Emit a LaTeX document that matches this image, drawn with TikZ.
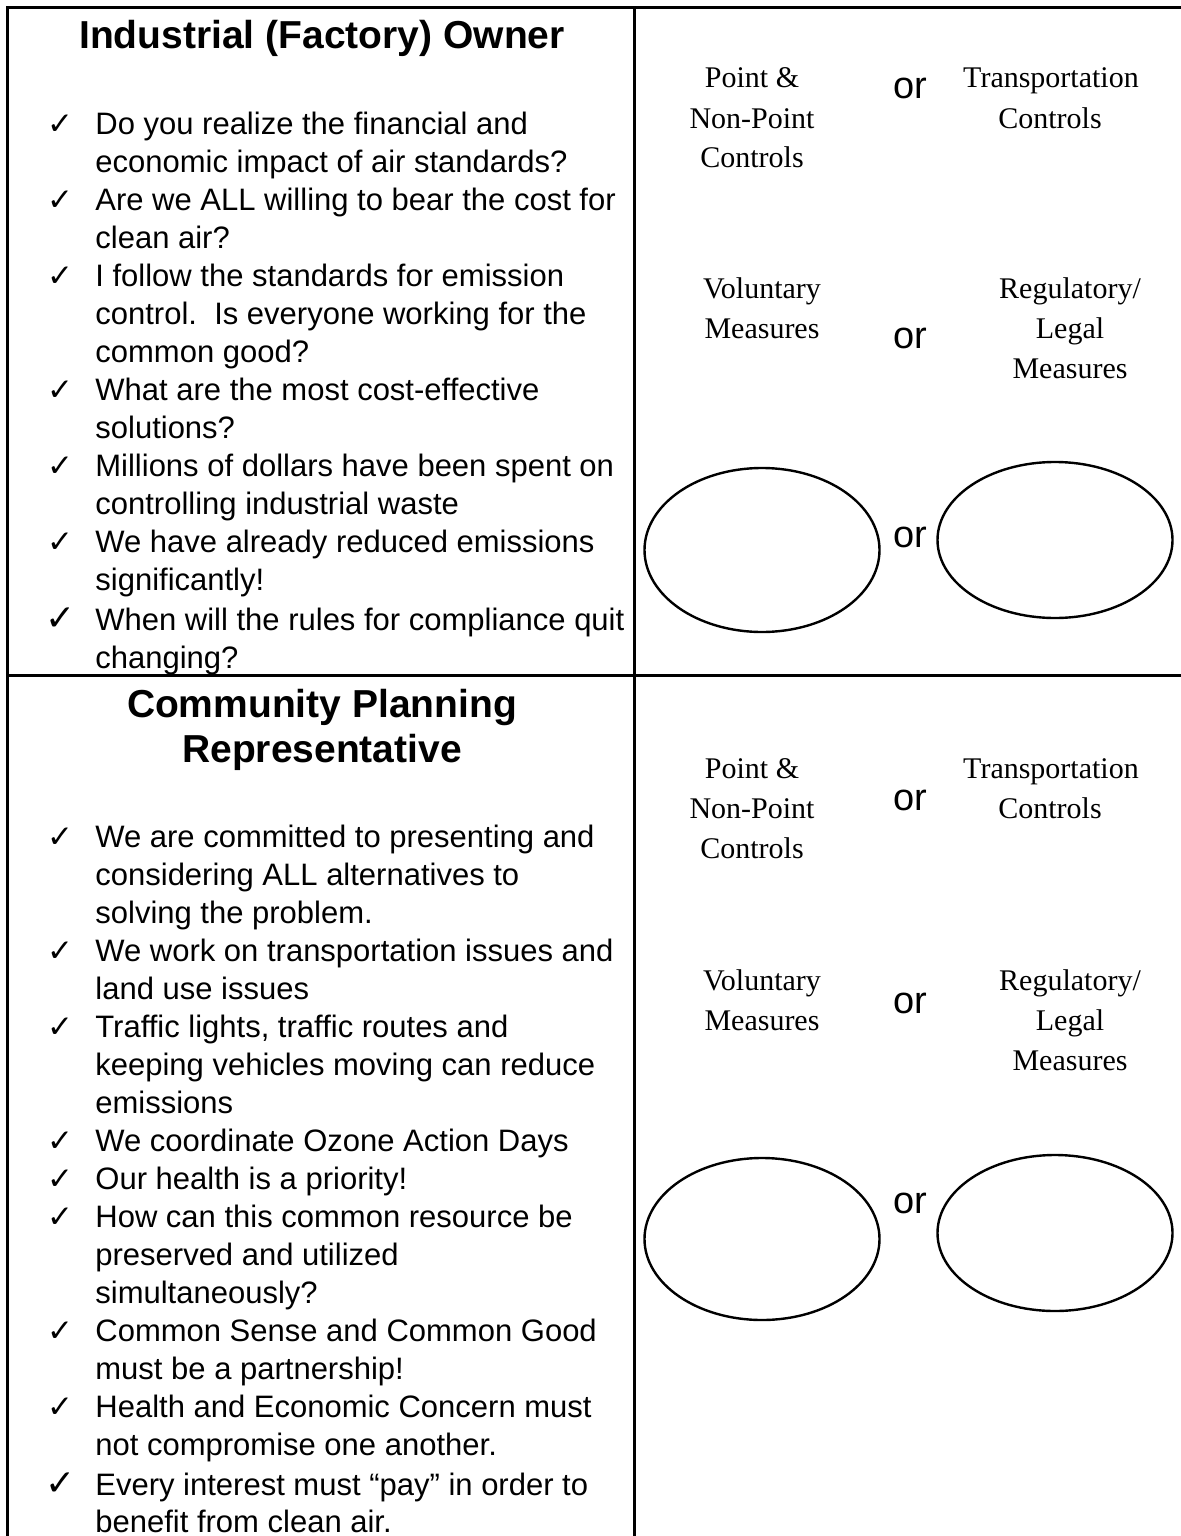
\documentclass[tikz,border=0pt]{standalone}
\usepackage{fontspec}
\setmainfont{Liberation Sans}
\newfontfamily\tmsfam{Liberation Serif}
\newfontfamily\symfam{DejaVu Sans}
\usetikzlibrary{shapes.geometric}
\newcommand{\bodyfont}{\fontsize{15.5pt}{19pt}\selectfont}
\newcommand{\ttlfont}{\bfseries\fontsize{19.5pt}{23pt}\selectfont}
\newcommand{\tmsfont}{\tmsfam\fontsize{15pt}{20pt}\selectfont}
\newcommand{\orfont}{\fontsize{19pt}{22pt}\selectfont}
\newcommand{\chkfont}{\symfam\fontsize{15.5pt}{18pt}\selectfont}
\newcommand{\chkbigfont}{\symfam\fontsize{18pt}{20pt}\selectfont}
\begin{document}
\begin{tikzpicture}[x=0.5pt,y=-0.5pt,
  body/.style={anchor=base west,inner sep=0pt,font=\bodyfont},
  chk/.style={anchor=base west,inner sep=0pt,font=\chkfont},
  chkbig/.style={anchor=base west,inner sep=0pt,font=\chkbigfont},
  ttl/.style={anchor=base,inner sep=0pt,font=\ttlfont},
  tms/.style={anchor=base,inner sep=0pt,font=\tmsfont},
  orl/.style={anchor=base,inner sep=0pt,font=\orfont},
  oval/.style={draw,ellipse,line width=1.2pt,inner sep=0pt},
  frame/.style={line width=1.5pt}]
\useasboundingbox (0,0) rectangle (1181,1536);
% frame
\coordinate (tl) at (7,8);
\coordinate (tr) at (1181,8);
\coordinate (bl) at (7,1536);
\coordinate (mt) at (634,8);
\coordinate (mb) at (634,1536);
\coordinate (hl) at (7,675);
\coordinate (hr) at (1181,675);
\draw[frame] (tr) -- (tl) -- (bl);
\draw[frame] (mt) -- (mb);
\draw[frame] (hl) -- (hr);

% ---------- top left ----------
\node[ttl] (t1) at (322,49) {Industrial (Factory) Owner};
\node[chk] (c1) at (47,134) {✓};
\node[body] (a1) at (95,134) {Do you realize the financial and};
\node[body] (a2) at (95,172) {economic impact of air standards?};
\node[chk] (c2) at (47,210) {✓};
\node[body] (a3) at (95,210) {Are we ALL willing to bear the cost for};
\node[body] (a4) at (95,248) {clean air?};
\node[chk] (c3) at (47,286) {✓};
\node[body] (a5) at (95,286) {I follow the standards for emission};
\node[body] (a6) at (95,324) {control.\ \ Is everyone working for the};
\node[body] (a7) at (95,362) {common good?};
\node[chk] (c4) at (47,400) {✓};
\node[body] (a8) at (95,400) {What are the most cost-effective};
\node[body] (a9) at (95,438) {solutions?};
\node[chk] (c5) at (47,476) {✓};
\node[body] (a10) at (95,476) {Millions of dollars have been spent on};
\node[body] (a11) at (95,514) {controlling industrial waste};
\node[chk] (c6) at (47,552) {✓};
\node[body] (a12) at (95,552) {We have already reduced emissions};
\node[body] (a13) at (95,590) {significantly!};
\node[chkbig] (c7) at (45,630) {✓};
\node[body] (a14) at (95,630) {When will the rules for compliance quit};
\node[body] (a15) at (95,668) {changing?};

% ---------- top right ----------
\node[tms] (p1) at (752,88) {Point \&};
\node[tms] (p2) at (752,128) {Non-Point};
\node[tms] (p3) at (752,168) {Controls};
\node[orl] (or1) at (910,98) {or};
\node[tms] (q1) at (1051,88) {Transportation};
\node[tms] (q2) at (1050,128) {Controls};
\node[tms] (v1) at (762,298) {Voluntary};
\node[tms] (v2) at (762,338) {Measures};
\node[orl] (or2) at (910,348) {or};
\node[tms] (r1) at (1070,298) {Regulatory/};
\node[tms] (r2) at (1070,338) {Legal};
\node[tms] (r3) at (1070,378) {Measures};
\node[oval,minimum width=117.5pt,minimum height=82pt] (e1) at (762,550) {};
\node[oval,minimum width=117.5pt,minimum height=78pt] (e2) at (1055,540) {};
\node[orl] (or3) at (910,547) {or};

% ---------- bottom left ----------
\node[ttl] (t2) at (322,717) {Community Planning};
\node[ttl] (t3) at (322,762) {Representative};
\node[chk] (d1) at (47,847) {✓};
\node[body] (b1) at (95,847) {We are committed to presenting and};
\node[body] (b2) at (95,885) {considering ALL alternatives to};
\node[body] (b3) at (95,923) {solving the problem.};
\node[chk] (d2) at (47,961) {✓};
\node[body] (b4) at (95,961) {We work on transportation issues and};
\node[body] (b5) at (95,999) {land use issues};
\node[chk] (d3) at (47,1037) {✓};
\node[body] (b6) at (95,1037) {Traffic lights, traffic routes and};
\node[body] (b7) at (95,1075) {keeping vehicles moving can reduce};
\node[body] (b8) at (95,1113) {emissions};
\node[chk] (d4) at (47,1151) {✓};
\node[body] (b9) at (95,1151) {We coordinate Ozone Action Days};
\node[chk] (d5) at (47,1189) {✓};
\node[body] (b10) at (95,1189) {Our health is a priority!};
\node[chk] (d6) at (47,1227) {✓};
\node[body] (b11) at (95,1227) {How can this common resource be};
\node[body] (b12) at (95,1265) {preserved and utilized};
\node[body] (b13) at (95,1303) {simultaneously?};
\node[chk] (d7) at (47,1341) {✓};
\node[body] (b14) at (95,1341) {Common Sense and Common Good};
\node[body] (b15) at (95,1379) {must be a partnership!};
\node[chk] (d8) at (47,1417) {✓};
\node[body] (b16) at (95,1417) {Health and Economic Concern must};
\node[body] (b17) at (95,1455) {not compromise one another.};
\node[chkbig] (d9) at (45,1495) {✓};
\node[body] (b18) at (95,1495) {Every interest must “pay” in order to};
\node[body] (b19) at (95,1532) {benefit from clean air.};

% ---------- bottom right ----------
\node[tms] (p4) at (752,778) {Point \&};
\node[tms] (p5) at (752,818) {Non-Point};
\node[tms] (p6) at (752,858) {Controls};
\node[orl] (or4) at (910,810) {or};
\node[tms] (q3) at (1051,778) {Transportation};
\node[tms] (q4) at (1050,818) {Controls};
\node[tms] (v3) at (762,990) {Voluntary};
\node[tms] (v4) at (762,1030) {Measures};
\node[orl] (or5) at (910,1013) {or};
\node[tms] (r4) at (1070,990) {Regulatory/};
\node[tms] (r5) at (1070,1030) {Legal};
\node[tms] (r6) at (1070,1070) {Measures};
\node[oval,minimum width=117.5pt,minimum height=81pt] (e3) at (762,1239) {};
\node[oval,minimum width=117.5pt,minimum height=78pt] (e4) at (1055,1233) {};
\node[orl] (or6) at (910,1213) {or};
\end{tikzpicture}
\end{document}
